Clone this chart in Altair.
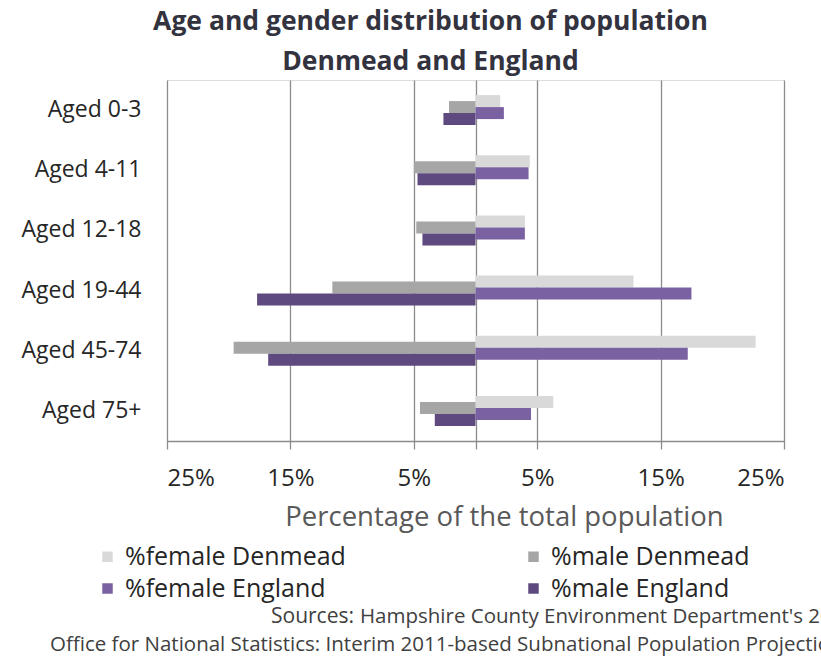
import altair as alt
import pandas as pd

ages = ["Aged 0-3", "Aged 4-11", "Aged 12-18", "Aged 19-44", "Aged 45-74", "Aged 75+"]
female_denmead = [2.0, 4.4, 4.0, 12.8, 22.7, 6.3]
male_denmead = [2.15, 5.0, 4.8, 11.6, 19.6, 4.5]
female_england = [2.3, 4.3, 4.0, 17.5, 17.2, 4.5]
male_england = [2.6, 4.7, 4.3, 17.7, 16.8, 3.3]
series_names = ["%female Denmead", "%male Denmead", "%female England", "%male England"]
series_sides = [1, -1, 1, -1]
series_colors = ["#d9d9d9", "#a6a6a6", "#7a62a2", "#5e4a7e"]
tick_values = [-25, -15, -5, 0, 5, 15, 25]
title_lines = ["Age and gender distribution of population", "Denmead and England"]
x_title = "Percentage of the total population"
source_head = ["Sources:"]
source_line1 = ["Hampshire County Environment Department's 2012-based Small Area Population Forecasts"]
source_line2 = ["Office for National Statistics: Interim 2011-based Subnational Population Projections"]

rows = []
for name, vals, side in zip(series_names,
                            [female_denmead, male_denmead, female_england, male_england],
                            series_sides):
    for a, v in zip(ages, vals):
        rows.append({"age": a, "series": name, "pct": side * v})
df = pd.DataFrame(rows)

FONT = "Open Sans"
offsets = [-9, -3, 3, 9]

x_enc = alt.X(
    "pct:Q",
    scale=alt.Scale(domain=[-25, 25], nice=False, zero=False),
    axis=alt.Axis(
        values=tick_values,
        labelExpr="datum.value == 0 ? '' : abs(datum.value) + '%'",
        grid=True, gridColor="#8c8c8c", gridWidth=1.3,
        domainColor="#8c8c8c", domainWidth=1.3,
        tickColor="#8c8c8c", tickWidth=1.3, tickSize=8,
        labelFont=FONT, labelFontSize=24, labelColor="#262626", labelPadding=17,
        title=x_title, titleFont=FONT, titleFontSize=27.5, titleFontWeight="normal",
        titleColor="#595959", titleX=337, titleY=84, titleAnchor="middle",
        titleBaseline="alphabetic",
    ),
)
y_enc = alt.Y(
    "age:N", sort=ages,
    scale=alt.Scale(paddingInner=0, paddingOuter=0),
    axis=alt.Axis(title=None, domain=False, ticks=False, labelPadding=26,
                  labelFont=FONT, labelFontSize=23, labelColor="#262626"),
)
color_enc = alt.Color(
    "series:N",
    scale=alt.Scale(domain=series_names, range=series_colors),
    legend=alt.Legend(
        orient="none", legendX=-72, legendY=464, columns=2, direction="horizontal",
        title=None, symbolType="square", symbolSize=110, symbolStrokeWidth=0,
        labelFont=FONT, labelFontSize=25, labelColor="#262626", labelLimit=400,
        labelOffset=5, columnPadding=175, rowPadding=6,
    ),
)

base = alt.Chart(df)
layers = []
for name, off in zip(series_names, offsets):
    layers.append(
        base.transform_filter(alt.datum.series == name)
        .mark_bar(height=12, yOffset=off)
        .encode(x=x_enc, y=y_enc, color=color_enc)
    )

head = alt.Chart(pd.DataFrame({"t": source_head})).mark_text(
    align="left", baseline="alphabetic", font=FONT, fontSize=21, color="#404040"
).encode(x=alt.value(271 - 167), y=alt.value(623 - 80), text="t:N")
src1 = alt.Chart(pd.DataFrame({"t": source_line1})).mark_text(
    align="left", baseline="alphabetic", font=FONT, fontSize=20.5, color="#404040"
).encode(x=alt.value(360 - 167), y=alt.value(623 - 80), text="t:N")
src2 = alt.Chart(pd.DataFrame({"t": source_line2})).mark_text(
    align="left", baseline="alphabetic", font=FONT, fontSize=20.5, color="#404040"
).encode(x=alt.value(50 - 167), y=alt.value(651 - 80), text="t:N")

chart = alt.layer(*layers, head, src1, src2).properties(
    width=617, height=361,
    title=alt.Title(title_lines, font=FONT, fontSize=26.5, fontWeight="bold",
                    color="#333340", anchor="middle", dx=-45, offset=5,
                    lineHeight=40),
    autosize=alt.AutoSizeParams(type="none"),
    padding={"left": 167, "top": 80, "right": 37, "bottom": 217},
).configure_view(stroke=None).configure(background="white")

chart.save("out.html", embed_options={"renderer": "svg", "actions": False})
